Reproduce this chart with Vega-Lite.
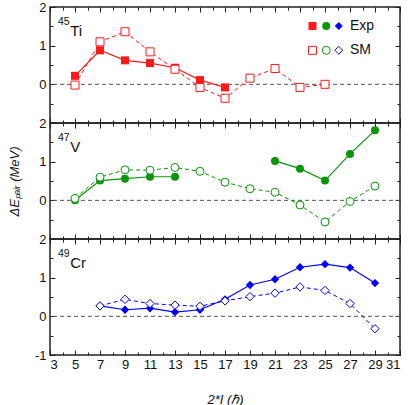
{
  "$schema": "https://vega.github.io/schema/vega-lite/v6.json",
  "padding": {"left": 8, "top": 0, "right": 5, "bottom": 3},
  "config": {
    "view": {"stroke": "#222", "strokeWidth": 1.5},
    "axis": {"domain": false, "grid": false, "labelFont": "Liberation Sans", "labelFontSize": 13, "labelColor": "#111", "tickColor": "#222", "tickWidth": 1, "titleFont": "Liberation Sans", "titleFontStyle": "italic", "titleFontWeight": "normal", "titleFontSize": 13, "titleColor": "#111"}
  },
  "datasets": {
    "ti": [
      {"spin": 5, "val": 0.22, "kind": "Exp"}, {"spin": 7, "val": 0.88, "kind": "Exp"}, {"spin": 9, "val": 0.62, "kind": "Exp"}, {"spin": 11, "val": 0.55, "kind": "Exp"}, {"spin": 13, "val": 0.43, "kind": "Exp"}, {"spin": 15, "val": 0.11, "kind": "Exp"}, {"spin": 17, "val": -0.08, "kind": "Exp"},
      {"spin": 5, "val": -0.02, "kind": "SM"}, {"spin": 7, "val": 1.1, "kind": "SM"}, {"spin": 9, "val": 1.36, "kind": "SM"}, {"spin": 11, "val": 0.84, "kind": "SM"}, {"spin": 13, "val": 0.39, "kind": "SM"}, {"spin": 15, "val": -0.08, "kind": "SM"}, {"spin": 17, "val": -0.36, "kind": "SM"}, {"spin": 19, "val": 0.16, "kind": "SM"}, {"spin": 21, "val": 0.41, "kind": "SM"}, {"spin": 23, "val": -0.08, "kind": "SM"}, {"spin": 25, "val": 0.0, "kind": "SM"}
    ],
    "v": [
      {"spin": 5, "val": 0.0, "kind": "Exp", "seg": "a"}, {"spin": 7, "val": 0.51, "kind": "Exp", "seg": "a"}, {"spin": 9, "val": 0.56, "kind": "Exp", "seg": "a"}, {"spin": 11, "val": 0.61, "kind": "Exp", "seg": "a"}, {"spin": 13, "val": 0.61, "kind": "Exp", "seg": "a"},
      {"spin": 21, "val": 1.02, "kind": "Exp", "seg": "b"}, {"spin": 23, "val": 0.82, "kind": "Exp", "seg": "b"}, {"spin": 25, "val": 0.51, "kind": "Exp", "seg": "b"}, {"spin": 27, "val": 1.2, "kind": "Exp", "seg": "b"}, {"spin": 29, "val": 1.81, "kind": "Exp", "seg": "b"},
      {"spin": 5, "val": 0.05, "kind": "SM", "seg": "c"}, {"spin": 7, "val": 0.6, "kind": "SM", "seg": "c"}, {"spin": 9, "val": 0.79, "kind": "SM", "seg": "c"}, {"spin": 11, "val": 0.78, "kind": "SM", "seg": "c"}, {"spin": 13, "val": 0.85, "kind": "SM", "seg": "c"}, {"spin": 15, "val": 0.75, "kind": "SM", "seg": "c"}, {"spin": 17, "val": 0.47, "kind": "SM", "seg": "c"}, {"spin": 19, "val": 0.3, "kind": "SM", "seg": "c"}, {"spin": 21, "val": 0.21, "kind": "SM", "seg": "c"}, {"spin": 23, "val": -0.12, "kind": "SM", "seg": "c"}, {"spin": 25, "val": -0.56, "kind": "SM", "seg": "c"}, {"spin": 27, "val": -0.03, "kind": "SM", "seg": "c"}, {"spin": 29, "val": 0.37, "kind": "SM", "seg": "c"}
    ],
    "cr": [
      {"spin": 7, "val": 0.27, "kind": "Exp"}, {"spin": 9, "val": 0.17, "kind": "Exp"}, {"spin": 11, "val": 0.21, "kind": "Exp"}, {"spin": 13, "val": 0.11, "kind": "Exp"}, {"spin": 15, "val": 0.17, "kind": "Exp"}, {"spin": 17, "val": 0.44, "kind": "Exp"}, {"spin": 19, "val": 0.81, "kind": "Exp"}, {"spin": 21, "val": 0.96, "kind": "Exp"}, {"spin": 23, "val": 1.27, "kind": "Exp"}, {"spin": 25, "val": 1.35, "kind": "Exp"}, {"spin": 27, "val": 1.26, "kind": "Exp"}, {"spin": 29, "val": 0.86, "kind": "Exp"},
      {"spin": 7, "val": 0.27, "kind": "SM"}, {"spin": 9, "val": 0.44, "kind": "SM"}, {"spin": 11, "val": 0.33, "kind": "SM"}, {"spin": 13, "val": 0.29, "kind": "SM"}, {"spin": 15, "val": 0.26, "kind": "SM"}, {"spin": 17, "val": 0.4, "kind": "SM"}, {"spin": 19, "val": 0.51, "kind": "SM"}, {"spin": 21, "val": 0.6, "kind": "SM"}, {"spin": 23, "val": 0.76, "kind": "SM"}, {"spin": 25, "val": 0.67, "kind": "SM"}, {"spin": 27, "val": 0.33, "kind": "SM"}, {"spin": 29, "val": -0.32, "kind": "SM"}
    ],
    "zero": [{"val": 0}],
    "legExp": [{"spin": 24.0, "val": 1.51, "shape": "square", "color": "red"}, {"spin": 25.1, "val": 1.51, "shape": "circle", "color": "green"}, {"spin": 26.1, "val": 1.51, "shape": "diamond", "color": "blue"}],
    "legSM": [{"spin": 24.0, "val": 0.88, "shape": "square", "color": "red"}, {"spin": 25.1, "val": 0.88, "shape": "circle", "color": "green"}, {"spin": 26.1, "val": 0.88, "shape": "diamond", "color": "blue"}],
    "legText": [{"spin": 27.0, "val": 1.51, "label": "Exp"}, {"spin": 27.0, "val": 0.88, "label": "SM"}],
    "tiSup": [{"spin": 3.64, "val": 1.53, "label": "45"}],
    "tiEl": [{"spin": 4.62, "val": 1.26, "label": "Ti"}],
    "vSup": [{"spin": 3.64, "val": 1.53, "label": "47"}],
    "vEl": [{"spin": 4.62, "val": 1.26, "label": "V"}],
    "crSup": [{"spin": 3.64, "val": 1.53, "label": "49"}],
    "crEl": [{"spin": 4.62, "val": 1.26, "label": "Cr"}]
  },
  "vconcat": [
    {
      "width": 350, "height": 116,
      "resolve": {"axis": {"x": "independent", "y": "independent"}},
      "layer": [
        {"data": {"name": "zero"}, "mark": {"type": "rule", "color": "#555", "strokeDash": [4, 3], "strokeWidth": 1},
         "encoding": {"y": {"field": "val", "type": "quantitative", "scale": {"domain": [-1, 2], "nice": false, "zero": false}, "axis": null}}},
        {"data": {"name": "ti"}, "transform": [{"filter": "datum.kind == 'Exp'"}], "mark": {"type": "line", "color": "#ff1a1a", "strokeWidth": 1.2},
         "encoding": {
           "x": {"field": "spin", "type": "quantitative", "scale": {"domain": [3, 31], "nice": false, "zero": false},
                 "axis": {"orient": "bottom", "values": [3,4,5,6,7,8,9,10,11,12,13,14,15,16,17,18,19,20,21,22,23,24,25,26,27,28,29,30,31], "tickSize": {"condition": {"test": "datum.value % 2 == 1", "value": -5}, "value": -3}, "labels": false, "title": null}},
           "y": {"field": "val", "type": "quantitative", "scale": {"domain": [-1, 2], "nice": false, "zero": false},
                 "axis": {"orient": "left", "values": [-1,-0.5,0,0.5,1,1.5,2], "tickSize": {"condition": {"test": "datum.value % 1 == 0", "value": -5}, "value": -3}, "labelExpr": "datum.value % 1 == 0 && datum.value > -1 ? '' + datum.value : ''", "labelPadding": 9, "title": null}}
         }},
        {"data": {"name": "ti"}, "transform": [{"filter": "datum.kind == 'SM'"}], "mark": {"type": "line", "color": "#ff1a1a", "strokeWidth": 1, "strokeDash": [4, 3]},
         "encoding": {
           "x": {"field": "spin", "type": "quantitative",
                 "axis": {"orient": "top", "values": [3,4,5,6,7,8,9,10,11,12,13,14,15,16,17,18,19,20,21,22,23,24,25,26,27,28,29,30,31], "tickSize": {"condition": {"test": "datum.value % 2 == 1", "value": -5}, "value": -3}, "labels": false, "title": null}},
           "y": {"field": "val", "type": "quantitative",
                 "axis": {"orient": "right", "values": [-1,-0.5,0,0.5,1,1.5,2], "tickSize": {"condition": {"test": "datum.value % 1 == 0", "value": -5}, "value": -3}, "labels": false, "title": null}}
         }},
        {"data": {"name": "ti"}, "transform": [{"filter": "datum.kind == 'Exp'"}], "mark": {"type": "point", "shape": "square", "filled": true, "color": "#ff1a1a", "size": 64, "opacity": 1},
         "encoding": {"x": {"field": "spin", "type": "quantitative", "axis": null}, "y": {"field": "val", "type": "quantitative", "axis": null}}},
        {"data": {"name": "ti"}, "transform": [{"filter": "datum.kind == 'SM'"}], "mark": {"type": "point", "shape": "square", "fill": "white", "stroke": "#ff1a1a", "strokeWidth": 1, "size": 64, "opacity": 1, "fillOpacity": 1},
         "encoding": {"x": {"field": "spin", "type": "quantitative", "axis": null}, "y": {"field": "val", "type": "quantitative", "axis": null}}},
        {"data": {"name": "legExp"}, "mark": {"type": "point", "filled": true, "size": 64, "opacity": 1},
         "encoding": {"x": {"field": "spin", "type": "quantitative", "axis": null}, "y": {"field": "val", "type": "quantitative", "axis": null},
           "shape": {"field": "shape", "type": "nominal", "scale": null, "legend": null},
           "color": {"field": "color", "type": "nominal", "scale": {"domain": ["red", "green", "blue"], "range": ["#ff1a1a", "#0a960a", "#0000ff"]}, "legend": null}}},
        {"data": {"name": "legSM"}, "mark": {"type": "point", "fill": "white", "fillOpacity": 1, "strokeWidth": 1, "size": 64, "opacity": 1},
         "encoding": {"x": {"field": "spin", "type": "quantitative", "axis": null}, "y": {"field": "val", "type": "quantitative", "axis": null},
           "shape": {"field": "shape", "type": "nominal", "scale": null, "legend": null},
           "stroke": {"field": "color", "type": "nominal", "scale": {"domain": ["red", "green", "blue"], "range": ["#ff1a1a", "#0a960a", "#0000ff"]}, "legend": null}}},
        {"data": {"name": "legText"}, "mark": {"type": "text", "align": "left", "baseline": "middle", "font": "Liberation Sans", "fontSize": 14, "color": "#111"},
         "encoding": {"x": {"field": "spin", "type": "quantitative", "axis": null}, "y": {"field": "val", "type": "quantitative", "axis": null}, "text": {"field": "label"}}},
        {"data": {"name": "tiSup"}, "mark": {"type": "text", "align": "left", "baseline": "alphabetic", "font": "Liberation Sans", "fontSize": 10.5, "color": "#111"},
         "encoding": {"x": {"field": "spin", "type": "quantitative", "axis": null}, "y": {"field": "val", "type": "quantitative", "axis": null}, "text": {"field": "label"}}},
        {"data": {"name": "tiEl"}, "mark": {"type": "text", "align": "left", "baseline": "alphabetic", "font": "Liberation Sans", "fontSize": 15, "color": "#111"},
         "encoding": {"x": {"field": "spin", "type": "quantitative", "axis": null}, "y": {"field": "val", "type": "quantitative", "axis": null}, "text": {"field": "label"}}}
      ]
    },
    {
      "width": 350, "height": 116,
      "resolve": {"axis": {"x": "independent", "y": "independent"}},
      "layer": [
        {"data": {"name": "zero"}, "mark": {"type": "rule", "color": "#555", "strokeDash": [4, 3], "strokeWidth": 1},
         "encoding": {"y": {"field": "val", "type": "quantitative", "scale": {"domain": [-1, 2], "nice": false, "zero": false}, "axis": null}}},
        {"data": {"name": "v"}, "transform": [{"filter": "datum.kind == 'Exp'"}], "mark": {"type": "line", "color": "#0a960a", "strokeWidth": 1.2},
         "encoding": {
           "detail": {"field": "seg"},
           "x": {"field": "spin", "type": "quantitative", "scale": {"domain": [3, 31], "nice": false, "zero": false},
                 "axis": {"orient": "bottom", "values": [3,4,5,6,7,8,9,10,11,12,13,14,15,16,17,18,19,20,21,22,23,24,25,26,27,28,29,30,31], "tickSize": {"condition": {"test": "datum.value % 2 == 1", "value": -5}, "value": -3}, "labels": false, "title": null}},
           "y": {"field": "val", "type": "quantitative", "scale": {"domain": [-1, 2], "nice": false, "zero": false},
                 "axis": {"orient": "left", "values": [-1,-0.5,0,0.5,1,1.5,2], "tickSize": {"condition": {"test": "datum.value % 1 == 0", "value": -5}, "value": -3}, "labelExpr": "datum.value % 1 == 0 && datum.value > -1 ? '' + datum.value : ''", "labelPadding": 9, "title": "ΔEₚₐᵢᵣ (MeV)", "titlePadding": 17}}
         }},
        {"data": {"name": "v"}, "transform": [{"filter": "datum.kind == 'SM'"}], "mark": {"type": "line", "color": "#0a960a", "strokeWidth": 1, "strokeDash": [4, 3]},
         "encoding": {
           "x": {"field": "spin", "type": "quantitative",
                 "axis": {"orient": "top", "values": [3,4,5,6,7,8,9,10,11,12,13,14,15,16,17,18,19,20,21,22,23,24,25,26,27,28,29,30,31], "tickSize": {"condition": {"test": "datum.value % 2 == 1", "value": -5}, "value": -3}, "labels": false, "title": null}},
           "y": {"field": "val", "type": "quantitative",
                 "axis": {"orient": "right", "values": [-1,-0.5,0,0.5,1,1.5,2], "tickSize": {"condition": {"test": "datum.value % 1 == 0", "value": -5}, "value": -3}, "labels": false, "title": null}}
         }},
        {"data": {"name": "v"}, "transform": [{"filter": "datum.kind == 'Exp'"}], "mark": {"type": "point", "shape": "circle", "filled": true, "color": "#0a960a", "size": 64, "opacity": 1},
         "encoding": {"x": {"field": "spin", "type": "quantitative", "axis": null}, "y": {"field": "val", "type": "quantitative", "axis": null}}},
        {"data": {"name": "v"}, "transform": [{"filter": "datum.kind == 'SM'"}], "mark": {"type": "point", "shape": "circle", "fill": "white", "stroke": "#0a960a", "strokeWidth": 1, "size": 64, "opacity": 1, "fillOpacity": 1},
         "encoding": {"x": {"field": "spin", "type": "quantitative", "axis": null}, "y": {"field": "val", "type": "quantitative", "axis": null}}},
        {"data": {"name": "vSup"}, "mark": {"type": "text", "align": "left", "baseline": "alphabetic", "font": "Liberation Sans", "fontSize": 10.5, "color": "#111"},
         "encoding": {"x": {"field": "spin", "type": "quantitative", "axis": null}, "y": {"field": "val", "type": "quantitative", "axis": null}, "text": {"field": "label"}}},
        {"data": {"name": "vEl"}, "mark": {"type": "text", "align": "left", "baseline": "alphabetic", "font": "Liberation Sans", "fontSize": 15, "color": "#111"},
         "encoding": {"x": {"field": "spin", "type": "quantitative", "axis": null}, "y": {"field": "val", "type": "quantitative", "axis": null}, "text": {"field": "label"}}}
      ]
    },
    {
      "width": 350, "height": 116,
      "resolve": {"axis": {"x": "independent", "y": "independent"}},
      "layer": [
        {"data": {"name": "zero"}, "mark": {"type": "rule", "color": "#555", "strokeDash": [4, 3], "strokeWidth": 1},
         "encoding": {"y": {"field": "val", "type": "quantitative", "scale": {"domain": [-1, 2], "nice": false, "zero": false}, "axis": null}}},
        {"data": {"name": "cr"}, "transform": [{"filter": "datum.kind == 'Exp'"}], "mark": {"type": "line", "color": "#0000ff", "strokeWidth": 1.2},
         "encoding": {
           "x": {"field": "spin", "type": "quantitative", "scale": {"domain": [3, 31], "nice": false, "zero": false},
                 "axis": {"orient": "bottom", "values": [3,4,5,6,7,8,9,10,11,12,13,14,15,16,17,18,19,20,21,22,23,24,25,26,27,28,29,30,31], "tickSize": {"condition": {"test": "datum.value % 2 == 1", "value": -5}, "value": -3}, "labelExpr": "datum.value % 2 == 1 ? '' + datum.value : ''", "labelPadding": 8, "title": "2*I (ℏ)", "titlePadding": 22}},
           "y": {"field": "val", "type": "quantitative", "scale": {"domain": [-1, 2], "nice": false, "zero": false},
                 "axis": {"orient": "left", "values": [-1,-0.5,0,0.5,1,1.5,2], "tickSize": {"condition": {"test": "datum.value % 1 == 0", "value": -5}, "value": -3}, "labelExpr": "datum.value % 1 == 0 ? '' + datum.value : ''", "labelPadding": 9, "title": null}}
         }},
        {"data": {"name": "cr"}, "transform": [{"filter": "datum.kind == 'SM'"}], "mark": {"type": "line", "color": "#0000ff", "strokeWidth": 1, "strokeDash": [4, 3]},
         "encoding": {
           "x": {"field": "spin", "type": "quantitative",
                 "axis": {"orient": "top", "values": [3,4,5,6,7,8,9,10,11,12,13,14,15,16,17,18,19,20,21,22,23,24,25,26,27,28,29,30,31], "tickSize": {"condition": {"test": "datum.value % 2 == 1", "value": -5}, "value": -3}, "labels": false, "title": null}},
           "y": {"field": "val", "type": "quantitative",
                 "axis": {"orient": "right", "values": [-1,-0.5,0,0.5,1,1.5,2], "tickSize": {"condition": {"test": "datum.value % 1 == 0", "value": -5}, "value": -3}, "labels": false, "title": null}}
         }},
        {"data": {"name": "cr"}, "transform": [{"filter": "datum.kind == 'Exp'"}], "mark": {"type": "point", "shape": "diamond", "filled": true, "color": "#0000ff", "size": 70, "opacity": 1},
         "encoding": {"x": {"field": "spin", "type": "quantitative", "axis": null}, "y": {"field": "val", "type": "quantitative", "axis": null}}},
        {"data": {"name": "cr"}, "transform": [{"filter": "datum.kind == 'SM'"}], "mark": {"type": "point", "shape": "diamond", "fill": "white", "stroke": "#0000ff", "strokeWidth": 1, "size": 70, "opacity": 1, "fillOpacity": 1},
         "encoding": {"x": {"field": "spin", "type": "quantitative", "axis": null}, "y": {"field": "val", "type": "quantitative", "axis": null}}},
        {"data": {"name": "crSup"}, "mark": {"type": "text", "align": "left", "baseline": "alphabetic", "font": "Liberation Sans", "fontSize": 10.5, "color": "#111"},
         "encoding": {"x": {"field": "spin", "type": "quantitative", "axis": null}, "y": {"field": "val", "type": "quantitative", "axis": null}, "text": {"field": "label"}}},
        {"data": {"name": "crEl"}, "mark": {"type": "text", "align": "left", "baseline": "alphabetic", "font": "Liberation Sans", "fontSize": 15, "color": "#111"},
         "encoding": {"x": {"field": "spin", "type": "quantitative", "axis": null}, "y": {"field": "val", "type": "quantitative", "axis": null}, "text": {"field": "label"}}}
      ]
    }
  ],
  "spacing": 0,
  "bounds": "flush"
}
